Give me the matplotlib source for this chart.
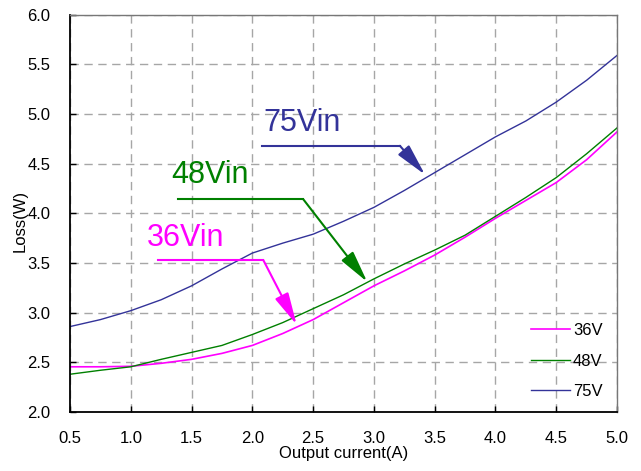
import matplotlib
matplotlib.use("Agg")
import matplotlib.pyplot as plt

plt.rcParams['font.family'] = ['Liberation Sans', 'DejaVu Sans']

current = [0.5, 0.75, 1.0, 1.25, 1.5, 1.75, 2.0, 2.25, 2.5, 2.75,
           3.0, 3.25, 3.5, 3.75, 4.0, 4.25, 4.5, 4.75, 5.0]
loss_36v = [2.455, 2.455, 2.46, 2.49, 2.53, 2.59, 2.67, 2.79, 2.93, 3.10,
            3.27, 3.42, 3.58, 3.76, 3.95, 4.13, 4.31, 4.54, 4.82]
loss_48v = [2.38, 2.42, 2.455, 2.53, 2.60, 2.67, 2.78, 2.90, 3.04, 3.18,
            3.34, 3.49, 3.63, 3.78, 3.97, 4.16, 4.36, 4.60, 4.86]
loss_75v = [2.86, 2.93, 3.02, 3.13, 3.27, 3.44, 3.60, 3.70, 3.79, 3.92,
            4.06, 4.23, 4.41, 4.59, 4.77, 4.93, 5.12, 5.34, 5.59]

series_labels = ['36V', '48V', '75V']
colors = ['#ff00ff', '#008000', '#333399']

# annotation: text position, elbow start, elbow corner, arrow tip
notes = [
    ('36Vin', (1.136, 3.67), (1.226, 3.53), (2.09, 3.53), (2.364, 2.88)),
    ('48Vin', (1.33, 4.31), (1.39, 4.14), (2.42, 4.14), (2.945, 3.31)),
    ('75Vin', (2.09, 4.83), (2.076, 4.68), (3.214, 4.68), (3.42, 4.39)),
]

fig = plt.figure(figsize=(6.41, 4.71), dpi=100)
ax = fig.add_axes([0.1092, 0.1253, 0.8534, 0.8435])

for ys, lab, c, lw in zip([loss_36v, loss_48v, loss_75v], series_labels, colors, [1.2, 1.0, 1.0]):
    ax.plot(current, ys, color=c, lw=lw, label=lab)

for (txt, tpos, start, corner, tip), c in zip(notes, colors):
    ax.text(tpos[0], tpos[1], txt, color=c, fontsize=22, ha='left', va='baseline')
    ax.plot([start[0], corner[0]], [start[1], corner[1]], color=c, lw=1.5)
    ax.annotate('', xy=tip, xytext=corner,
                arrowprops=dict(arrowstyle='-|>,head_length=1.4,head_width=0.32',
                                color=c, lw=1.5, shrinkA=0, shrinkB=0,
                                mutation_scale=14))

ax.set_xlim(0.5, 5.0)
ax.set_ylim(2.0, 6.0)
ax.set_xticks([0.5, 1.0, 1.5, 2.0, 2.5, 3.0, 3.5, 4.0, 4.5, 5.0])
ax.set_yticks([2.0, 2.5, 3.0, 3.5, 4.0, 4.5, 5.0, 5.5, 6.0])
ax.xaxis.set_major_formatter(matplotlib.ticker.FormatStrFormatter('%.1f'))
ax.yaxis.set_major_formatter(matplotlib.ticker.FormatStrFormatter('%.1f'))
ax.tick_params(direction='in', length=4, width=1, labelsize=12, pad=14)
ax.grid(True, color='#a6a6a6', linestyle=(0, (6, 4)), lw=1)

for side in ['top', 'right']:
    ax.spines[side].set_color('#777777')
    ax.spines[side].set_linewidth(1.0)
for side in ['left', 'bottom']:
    ax.spines[side].set_color('black')
    ax.spines[side].set_linewidth(1.3)

ax.set_xlabel('Output current(A)', fontsize=12, labelpad=0)
ax.set_ylabel('Loss(W)', fontsize=12)
ax.yaxis.set_label_coords(-0.078, 0.48)

ax.legend(loc='center left', bbox_to_anchor=(0.842, 0.128), frameon=False,
          fontsize=12, handlelength=2.35, handletextpad=0.2, labelspacing=0.92,
          borderpad=0, borderaxespad=0)

fig.savefig('out.png', dpi=100)
